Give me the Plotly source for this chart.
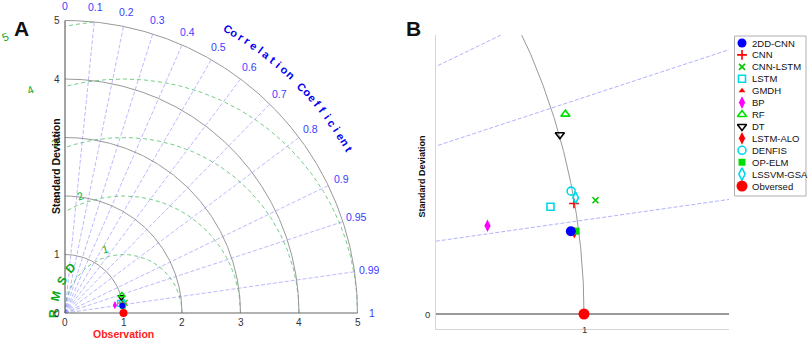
import numpy as np
import plotly.graph_objects as go

# ---------------- data ----------------
models = ["2DD-CNN", "CNN", "CNN-LSTM", "LSTM", "GMDH", "BP", "RF", "DT",
          "LSTM-ALO", "DENFIS", "OP-ELM", "LSSVM-GSA", "Obversed"]
std_dev = [0.988, 0.999, 1.032, 0.963, 0.994, 0.864, 1.018, 1.001,
           0.993, 0.998, 0.996, 1.003, 1.000]
corr_coef = [0.9919, 0.9858, 0.9859, 0.9856, 0.9918, 0.9879, 0.9546, 0.9624,
             0.9923, 0.9824, 0.9920, 0.9844, 1.0000]
colors = ["#0000ff", "#ff0000", "#00c800", "#00d8e8", "#ff0000", "#ff00ff", "#00e000", "#000000",
          "#ff0000", "#00d8e8", "#00dd00", "#00d8e8", "#ff0000"]
symbols = ["circle", "cross-thin", "x-thin", "square-open", "triangle-up", "diamond-tall",
           "triangle-up-open", "triangle-down-open", "diamond-tall", "circle-open", "square",
           "diamond-tall-open", "circle"]
corr_ticks = [0, 0.1, 0.2, 0.3, 0.4, 0.5, 0.6, 0.7, 0.8, 0.9, 0.95, 0.99, 1]
corr_tick_labels = ["0", "0.1", "0.2", "0.3", "0.4", "0.5", "0.6", "0.7", "0.8", "0.9", "0.95", "0.99", "1"]
std_ticks = [0, 1, 2, 3, 4, 5]
rmsd_levels = [1, 2, 3, 4, 5]

# ---------------- geometry helpers ----------------
W, H = 809, 343
FONT = "Arial, Liberation Sans, sans-serif"
BLUE_T = "#3c3cff"
GREEN_T = "#0aa81a"

def dom_x(a, b):
    return [a / W, b / W]

def dom_y(top, bottom):
    return [(H - bottom) / H, (H - top) / H]

thetas = np.arccos(np.array(corr_coef))
xs = np.array(std_dev) * np.cos(thetas)
ys = np.array(std_dev) * np.sin(thetas)

fig = go.Figure()

def line(x, y, xa, ya, color, width=1.0, dash="solid"):
    fig.add_trace(go.Scatter(x=x, y=y, mode="lines", xaxis=xa, yaxis=ya, showlegend=False,
                             hoverinfo="skip", line=dict(color=color, width=width, dash=dash)))

radial_c = [c for c in corr_ticks if 0 < c < 1]
RMAX = max(std_ticks)

# ---------------- panel A ----------------
t = np.linspace(0, np.pi / 2, 300)
for k in rmsd_levels:
    tt = np.linspace(0, np.pi, 1500)
    ax_ = 1 + k * np.cos(tt)
    ay_ = k * np.sin(tt)
    m = (ax_ ** 2 + ay_ ** 2 <= RMAX ** 2 + 1e-9) & (ax_ >= 0)
    line(ax_[m], ay_[m], "x", "y", "rgba(100,200,120,0.9)", 1.0, "4px,3px")
for c in radial_c:
    th = np.arccos(c)
    line([0, RMAX * np.cos(th)], [0, RMAX * np.sin(th)], "x", "y", "rgba(110,110,255,0.6)", 0.8, "4px,2px")
for s in std_ticks[1:]:
    line(s * np.cos(t), s * np.sin(t), "x", "y", "#999999", 1.0)
line([0, RMAX], [0, 0], "x", "y", "#666666", 1.2)
line([0, 0], [0, RMAX], "x", "y", "#666666", 1.2)

order = [5, 3, 1, 2, 9, 11, 7, 6, 4, 8, 10, 0, 12]
for i in order:
    sym = symbols[i]
    open_ = sym.endswith("open") or "thin" in sym
    sz = 6 if i != 12 else 8
    fig.add_trace(go.Scatter(
        x=[xs[i]], y=[ys[i]], mode="markers", xaxis="x", yaxis="y", showlegend=False,
        marker=dict(symbol=sym, size=sz, color=colors[i],
                    line=dict(color=colors[i], width=1.3 if open_ else 0))))

# ---------------- panel B ----------------
tB = np.linspace(0, np.pi / 2, 600)
for c in [0.9, 0.95, 0.99]:
    th = np.arccos(c)
    line([0, RMAX * np.cos(th)], [0, RMAX * np.sin(th)], "x2", "y2", "rgba(110,110,255,0.6)", 0.9, "4px,2px")
line(np.cos(tB), np.sin(tB), "x2", "y2", "#999999", 1.0)
line([0, RMAX], [0, 0], "x2", "y2", "#999999", 1.8)

sizesB = [10, 7, 6, 7, 6, 9, 8, 8, 8, 8, 7, 8, 11]
for i in order:
    sym = symbols[i]
    open_ = sym.endswith("open") or "thin" in sym
    fig.add_trace(go.Scatter(
        x=[xs[i]], y=[ys[i]], mode="markers", xaxis="x2", yaxis="y2", showlegend=False,
        marker=dict(symbol=sym, size=sizesB[i], color=colors[i],
                    line=dict(color=colors[i], width=1.6 if open_ else 0))))

# ---------------- legend (drawn on its own axes) ----------------
sizesL = [9, 7, 6, 7, 6, 9, 8, 8, 9, 8, 7, 9, 11]
ly = [7 + 11.92 * k for k in range(len(models))]
for i in range(len(models)):
    sym = symbols[i]
    open_ = sym.endswith("open") or "thin" in sym
    fig.add_trace(go.Scatter(
        x=[8], y=[ly[i]], mode="markers", xaxis="x3", yaxis="y3", showlegend=False,
        marker=dict(symbol=sym, size=sizesL[i], color=colors[i],
                    line=dict(color=colors[i], width=1.6 if open_ else 0))))

ann = []
for i, name in enumerate(models):
    ann.append(dict(x=16, y=ly[i], xref="x3", yref="y3", text=name, showarrow=False,
                    xanchor="left", yanchor="middle", font=dict(family=FONT, size=9.5, color="#111")))

# panel A texts
for c, lab in zip(corr_ticks, corr_tick_labels):
    th = np.arccos(c)
    ann.append(dict(x=5.25 * np.cos(th), y=5.25 * np.sin(th), xref="x", yref="y", text=lab,
                    showarrow=False, font=dict(family=FONT, size=10.5, color=BLUE_T)))
title_chars = list("Correlation Coefficient")
ang = np.linspace(60.2, 30.0, len(title_chars))
for ch, a in zip(title_chars, ang):
    if ch == " ":
        continue
    ar = np.radians(a)
    ann.append(dict(x=5.6 * np.cos(ar), y=5.6 * np.sin(ar), xref="x", yref="y", text="<b>" + ch + "</b>",
                    showarrow=False, textangle=90 - a,
                    font=dict(family=FONT, size=11, color="#0000ee")))
for ch, a in zip("RMSD", [180, 166, 152.5, 139.5]):
    ar = np.radians(a)
    ann.append(dict(x=1 + 1.19 * np.cos(ar), y=1.19 * np.sin(ar), xref="x", yref="y", text="<b>" + ch + "</b>",
                    showarrow=False, textangle=90 - a,
                    font=dict(family=FONT, size=12, color=GREEN_T)))
for k, a in zip(rmsd_levels, [106, 110.5, 112, 112.7, 113.2]):
    ar = np.radians(a)
    r = k + 0.14
    ann.append(dict(x=1 + r * np.cos(ar), y=r * np.sin(ar), xref="x", yref="y", text=str(k),
                    showarrow=False, textangle=90 - a,
                    font=dict(family=FONT, size=11, color=GREEN_T)))
for s in std_ticks:
    ann.append(dict(x=s, y=-0.16, xref="x", yref="y", text=str(s), showarrow=False,
                    font=dict(family=FONT, size=10, color="#333")))
    ann.append(dict(x=-0.05, y=s, xref="x", yref="y", text=str(s), showarrow=False, xanchor="right",
                    font=dict(family=FONT, size=10, color="#333")))
ann.append(dict(x=1, y=-0.36, xref="x", yref="y", text="<b>Observation</b>", showarrow=False,
                font=dict(family=FONT, size=10.5, color="#ff2020")))
ann.append(dict(x=48 / W, y=(H - 166) / H, xref="paper", yref="paper", text="<b>Standard Deviation</b>",
                showarrow=False, textangle=-90, font=dict(family=FONT, size=10.5, color="#111")))
ann.append(dict(x=11.5 / W, y=(H - 15) / H, xref="paper", yref="paper", text="<b>A</b>",
                showarrow=False, font=dict(family=FONT, size=21, color="#111")))

# panel B texts
ann.append(dict(x=413.5 / W, y=(H - 15) / H, xref="paper", yref="paper", text="<b>B</b>",
                showarrow=False, font=dict(family=FONT, size=21, color="#111")))
ann.append(dict(x=421.5 / W, y=(H - 177) / H, xref="paper", yref="paper", text="<b>Standard Deviation</b>",
                showarrow=False, textangle=-90, font=dict(family=FONT, size=9, color="#111")))
ann.append(dict(x=432 / W, y=0, xref="paper", yref="y2", text="0", showarrow=False, xanchor="right",
                font=dict(family=FONT, size=9.5, color="#333")))
ann.append(dict(x=1, y=(H - 337) / H, xref="x2", yref="paper", text="1", showarrow=False,
                font=dict(family=FONT, size=9.5, color="#333")))

sA = 58.5
oAx, oAy = 65, 313
sB = 659
oBx, oBy = 584, 314
bx0, bx1, by0, by1 = 436, 729, 35, 329

hide = dict(visible=False, showgrid=False, zeroline=False, fixedrange=True)
fig.update_layout(
    width=W, height=H, autosize=False, margin=dict(l=0, r=0, t=0, b=0),
    paper_bgcolor="white", plot_bgcolor="rgba(0,0,0,0)", showlegend=False,
    xaxis=dict(domain=[0, 0.5], range=[-oAx / sA, (0.5 * W - oAx) / sA], **hide),
    yaxis=dict(domain=[0, 1], range=[-(H - oAy) / sA, oAy / sA], **hide),
    xaxis2=dict(domain=dom_x(bx0, bx1), range=[1 - (oBx - bx0) / sB, 1 + (bx1 - oBx) / sB],
                showline=True, linecolor="#d6d6d6", linewidth=1, showgrid=False, zeroline=False,
                showticklabels=False, ticks="", anchor="y2", fixedrange=True),
    yaxis2=dict(domain=dom_y(by0, by1), range=[-(by1 - oBy) / sB, (oBy - by0) / sB],
                showline=True, linecolor="#d6d6d6", linewidth=1, showgrid=False, zeroline=False,
                showticklabels=False, ticks="", anchor="x2", fixedrange=True),
    xaxis3=dict(domain=dom_x(734, 806), range=[0, 72], anchor="y3", **hide),
    yaxis3=dict(domain=dom_y(36, 196), range=[160, 0], anchor="x3", **hide),
    annotations=ann,
    shapes=[dict(type="rect", xref="paper", yref="paper", x0=734.5 / W, x1=806 / W,
                 y0=(H - 196) / H, y1=(H - 36) / H, line=dict(color="#b0b0b0", width=1),
                 fillcolor="rgba(255,255,255,0)", layer="below")],
)

fig.write_html("out.html", config={"displayModeBar": False},
               post_script="document.body.style.margin='0px';document.body.style.overflow='hidden';")
